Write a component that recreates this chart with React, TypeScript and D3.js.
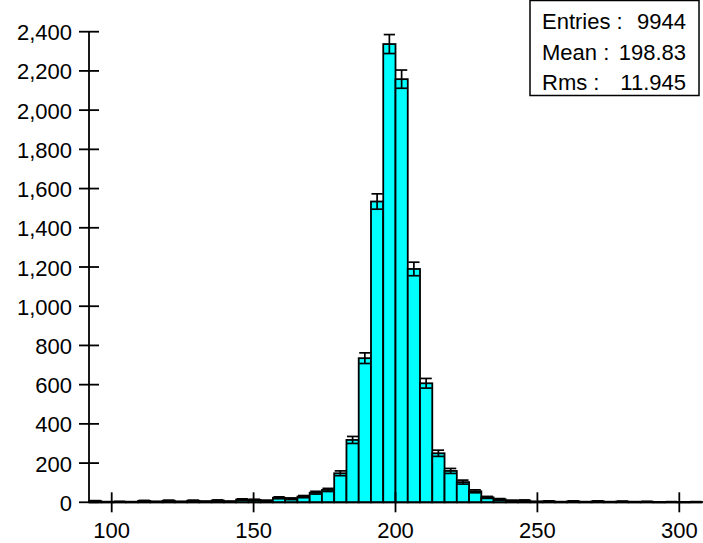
import React from 'react';
import * as d3 from 'd3';

// histogram: 50 bins from 92 to 308
const binStart = 92;
const binEnd = 308;
const counts = [
  6, 2, 3, 2, 7, 3, 8, 3, 8, 4,
  9, 4, 14, 12, 8, 23, 18, 29, 49, 63,
  148, 318, 735, 1534, 2337, 2158, 1190, 607, 250, 160,
  103, 56, 25, 15, 8, 9, 3, 5, 2, 5,
  2, 5, 2, 4, 2, 3, 1, 2, 1, 2,
];
const xTicks = [100, 150, 200, 250, 300];
const yTicks = [0, 200, 400, 600, 800, 1000, 1200, 1400, 1600, 1800, 2000, 2200, 2400];
const statLabels = ['Entries :', 'Mean :', 'Rms :'];
const statValues = ['9944', '198.83', '11.945'];

const W = 703;
const H = 543;
const font = '"Liberation Sans", Arial, sans-serif';

const App = () => {
  const x = d3.scaleLinear().domain([binStart, binEnd]).range([89, 702]);
  const y = d3.scaleLinear().domain([0, 2400]).range([502.3, 31.7]);
  const bw = (binEnd - binStart) / counts.length;
  const bins = counts.map((c, i) => ({ x0: binStart + i * bw, x1: binStart + (i + 1) * bw, c }));
  const fmt = d3.format(',');

  return (
    <svg width={W} height={H} style={{ position: 'absolute', left: 0, top: 0 }} fontFamily={font}>
      <rect width={W} height={H} fill="#fff" />

      {/* bars */}
      <g>
        {bins.map((b, i) => (
          <rect key={i} x={x(b.x0)} y={y(b.c)} width={x(b.x1) - x(b.x0)} height={y(0) - y(b.c)}
            fill="#00ffff" stroke="#000" strokeWidth={1.8} />
        ))}
      </g>

      {/* error bars */}
      <g stroke="#000" strokeWidth={1.7}>
        {bins.map((b, i) => {
          const e = Math.sqrt(b.c);
          const cx = x((b.x0 + b.x1) / 2);
          const hw = (x(b.x1) - x(b.x0)) / 2 - 0.5;
          return (
            <g key={i}>
              <line x1={cx} x2={cx} y1={y(b.c + e)} y2={y(Math.max(0, b.c - e))} />
              <line x1={cx - hw} x2={cx + hw} y1={y(b.c + e)} y2={y(b.c + e)} />
              <line x1={cx - hw} x2={cx + hw} y1={y(Math.max(0, b.c - e))} y2={y(Math.max(0, b.c - e))} />
            </g>
          );
        })}
      </g>

      {/* y axis */}
      <g stroke="#000" strokeWidth={1.8}>
        <line x1={89} x2={89} y1={y(2400)} y2={y(0)} />
        {yTicks.map(t => (
          <line key={t} x1={79} x2={99} y1={y(t)} y2={y(t)} />
        ))}
      </g>
      <g fontSize={22} textAnchor="end" fill="#000">
        {yTicks.map(t => (
          <text key={t} x={72} y={y(t) + 8.5}>{fmt(t)}</text>
        ))}
      </g>

      {/* x axis */}
      <g stroke="#000" strokeWidth={1.8}>
        <line x1={x(binStart)} x2={x(binEnd)} y1={y(0)} y2={y(0)} />
        {xTicks.map(t => (
          <line key={t} x1={x(t)} x2={x(t)} y1={y(0) - 10} y2={y(0) + 10} />
        ))}
      </g>
      <g fontSize={22} textAnchor="middle" fill="#000">
        {xTicks.map(t => (
          <text key={t} x={x(t)} y={538}>{t}</text>
        ))}
      </g>

      {/* stats box */}
      <rect x={530} y={0.5} width={169} height={95} fill="#fff" stroke="#000" strokeWidth={1.5} />
      <g fontSize={22} fill="#000">
        {statLabels.map((l, i) => (
          <text key={l} x={542} y={29 + i * 30.5}>{l}</text>
        ))}
        {statValues.map((v, i) => (
          <text key={v} x={686} y={29 + i * 30.5} textAnchor="end">{v}</text>
        ))}
      </g>
    </svg>
  );
};

export default App;
